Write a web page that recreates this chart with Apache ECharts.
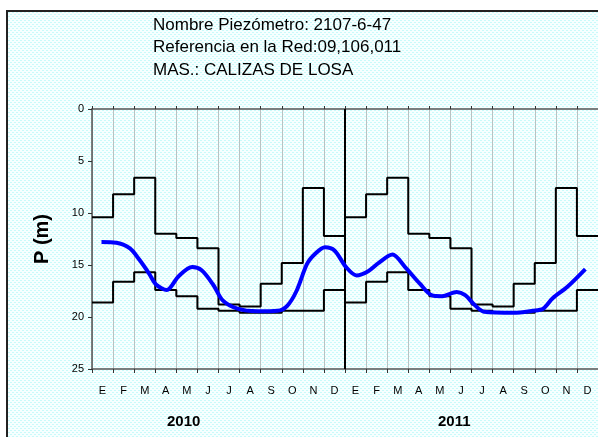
<!DOCTYPE html>
<html>
<head>
<meta charset="utf-8">
<script src="https://cdn.jsdelivr.net/npm/echarts@6/dist/echarts.min.js"></script>
<style>
  html, body { margin: 0; padding: 0; background: #fff; }
  #chart { width: 598px; height: 437px; }
</style>
</head>
<body>
<div id="chart"></div>
<script>
// etiquetas de meses (una vez por año)
const monthNames = ['E', 'F', 'M', 'A', 'M', 'J', 'J', 'A', 'S', 'O', 'N', 'D'];
const years = ['2010', '2011'];
// envolvente histórica mensual (profundidad en m)
const maxMonthly = [10.4, 8.2, 6.6, 12.0, 12.4, 13.4, 18.8, 19.0, 16.8, 14.8, 7.6, 12.2];
const minMonthly = [18.6, 16.6, 15.7, 17.4, 18.0, 19.2, 19.4, 19.6, 19.6, 19.4, 19.4, 17.4];
// medidas del piezómetro: posición en meses desde ene-2010 y profundidad
const levelMonth = [0.45, 1.15, 1.8, 2.25, 2.7, 3.05, 3.55, 4.1, 4.75, 5.2, 5.75, 6.2, 6.9, 7.85, 8.8,
  9.25, 9.7, 10.2, 10.6, 11.05, 11.5, 12.05, 12.55, 13.1, 13.6, 14.25, 14.85, 15.55, 16.1, 16.6,
  17.3, 17.7, 18.15, 18.6, 20.0, 20.9, 21.4, 21.85, 22.55, 23.4];
const levelDepth = [12.8, 12.85, 13.4, 14.5, 15.8, 16.9, 17.4, 16.1, 15.2, 15.5, 16.9, 18.4, 19.2, 19.45, 19.4,
  18.95, 17.5, 14.9, 13.9, 13.3, 13.6, 15.2, 16.0, 15.6, 14.8, 14.0, 15.2, 16.8, 17.9, 18.0,
  17.6, 17.9, 18.85, 19.5, 19.6, 19.4, 19.2, 18.2, 17.1, 15.4];

// escalones: un punto al inicio de cada mes + cierre
const stepData = (arr) => {
    const pts = [];
    years.forEach((y, yi) => arr.forEach((v, m) => pts.push([yi * 12 + m, v])));
    pts.push([24, arr[arr.length - 1]]);
    return pts;
};
const monthCats = years.flatMap(() => monthNames);

// fondo punteado tipo hoja de cálculo
const tile = document.createElement('canvas');
tile.width = 4; tile.height = 4;
const tctx = tile.getContext('2d');
tctx.fillStyle = '#f6ffff';
tctx.fillRect(0, 0, 4, 4);
tctx.fillStyle = '#c9fafa';
tctx.fillRect(0, 0, 2, 1);
tctx.fillRect(2, 2, 2, 1);

const chart = echarts.init(document.getElementById('chart'));
const font = 'Liberation Sans, Arial, sans-serif';

const option = {
    backgroundColor: '#fff',
    animation: false,
    textStyle: { fontFamily: font },
    title: {
        text: 'Nombre Piezómetro: 2107-6-47\nReferencia en la Red:09,106,011\nMAS.: CALIZAS DE LOSA',
        left: 153,
        top: 14,
        padding: 0,
        textStyle: { fontSize: 17, fontWeight: 'normal', color: '#000', lineHeight: 22.5, fontFamily: font }
    },
    graphic: [
        {
            type: 'rect', z: -10, silent: true,
            shape: { x: 7, y: 11, width: 600, height: 440 },
            style: { fill: { image: tile, repeat: 'repeat' }, stroke: '#222', lineWidth: 2 }
        },
        {
            type: 'text', left: 167, top: 414,
            style: { text: years[0], font: 'bold 15px ' + font, fill: '#000' }
        },
        {
            type: 'text', left: 438, top: 414,
            style: { text: years[1], font: 'bold 15px ' + font, fill: '#000' }
        }
    ],
    grid: { left: 92, top: 109, width: 514, height: 260 },
    xAxis: [
        {
            type: 'value', min: 0, max: 24, interval: 1, position: 'bottom',
            axisLine: { onZero: false, lineStyle: { color: '#555', width: 1.5 } },
            axisTick: { show: true, length: 4, lineStyle: { color: '#333' } },
            axisLabel: { show: false },
            splitLine: { show: true, lineStyle: { color: '#b9c2c2', width: 1 } }
        },
        {
            type: 'category', data: monthCats, position: 'bottom',
            axisLine: { show: false }, axisTick: { show: false },
            axisLabel: { margin: 16, fontSize: 11, color: '#000', interval: 0 },
            splitLine: { show: false }
        },
        {
            type: 'value', min: 0, max: 24, interval: 1, position: 'top',
            axisLine: { onZero: false, lineStyle: { color: '#555', width: 1.5 } },
            axisTick: { show: true, length: 3, lineStyle: { color: '#333' } },
            axisLabel: { show: false },
            splitLine: { show: false }
        }
    ],
    yAxis: {
        type: 'value', inverse: true, min: 0, max: 25, interval: 5,
        name: 'P (m)', nameLocation: 'middle', nameGap: 40,
        nameTextStyle: { fontSize: 20, fontWeight: 'bold', color: '#000' },
        axisLine: { show: true, lineStyle: { color: '#555', width: 1.5 } },
        axisTick: { show: true, length: 4, lineStyle: { color: '#333' } },
        axisLabel: { fontSize: 11, color: '#000', margin: 8 },
        splitLine: { show: false }
    },
    series: [
        {
            name: 'Máximo', type: 'line', step: 'end', xAxisIndex: 0,
            data: stepData(maxMonthly), symbol: 'none',
            lineStyle: { color: '#000', width: 2 },
            markLine: {
                silent: true, symbol: 'none', label: { show: false },
                lineStyle: { color: '#000', width: 2, type: 'solid' },
                data: [{ xAxis: 12 }]
            }
        },
        {
            name: 'Mínimo', type: 'line', step: 'end', xAxisIndex: 0,
            data: stepData(minMonthly), symbol: 'none',
            lineStyle: { color: '#000', width: 2 }
        },
        {
            name: 'Nivel', type: 'line', xAxisIndex: 0, smooth: 0.3,
            data: levelMonth.map((m, i) => [m, levelDepth[i]]), symbol: 'none',
            lineStyle: { color: '#0000ff', width: 4 }, z: 5
        }
    ]
};
chart.setOption(option);
</script>
</body>
</html>
